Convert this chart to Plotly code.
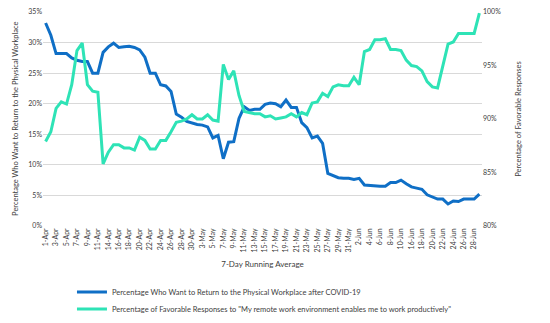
import plotly.graph_objects as go

# Survey dates (7-day running average); a few dates have no survey data
dates = (
    [f"{d}-Apr" for d in list(range(1, 12)) + [13] + list(range(14, 31))]
    + [f"{d}-May" for d in [2] + list(range(3, 32))]
    + [f"{d}-Jun" for d in [1] + list(range(2, 11)) + [15] + list(range(16, 30))]
)

# Percentage who want to return to the physical workplace after COVID-19 (left axis, %)
return_pct = [
    33.2, 31.2, 28.2, 28.2, 28.2, 27.5, 27.1, 26.9, 26.9, 25.0,
    25.0, 28.4, 29.3, 29.9, 29.2, 29.3, 29.4, 29.2, 28.8, 27.6,
    25.0, 25.0, 23.1, 22.9, 22.0, 18.3, 17.8, 17.1, 16.8, 16.6,
    16.5, 16.2, 14.4, 14.8, 11.0, 13.7, 13.8, 17.6, 19.5, 18.9,
    19.1, 19.1, 19.9, 20.1, 20.0, 19.5, 20.6, 19.4, 19.4, 16.9,
    16.1, 14.4, 14.7, 13.5, 8.6, 8.2, 7.9, 7.8, 7.8, 7.6,
    7.8, 6.7, 6.6, 6.5, 6.5, 6.5, 7.1, 7.1, 7.5, 6.9,
    6.4, 6.2, 6.0, 5.1, 4.8, 4.4, 4.4, 3.6, 4.1, 4.0,
    4.4, 4.4, 4.4, 5.2,
]

# Percentage of favorable responses to the remote-work productivity item (right axis, %)
favorable_pct = [
    87.9, 88.8, 91.0, 91.6, 91.4, 93.2, 96.4, 97.1, 93.2, 92.6,
    92.5, 85.8, 86.9, 87.6, 87.6, 87.3, 87.3, 87.1, 88.3, 88.0,
    87.2, 87.2, 88.0, 88.0, 88.8, 89.7, 89.8, 90.0, 90.4, 90.0,
    90.0, 90.4, 89.9, 89.8, 95.1, 93.7, 94.5, 92.2, 90.7, 90.6,
    90.5, 90.5, 90.2, 90.3, 90.0, 90.1, 90.2, 90.5, 90.2, 90.6,
    90.4, 91.5, 91.6, 92.4, 92.1, 93.0, 93.2, 93.1, 93.1, 93.9,
    93.2, 96.3, 96.5, 97.4, 97.4, 97.5, 96.5, 96.5, 96.4, 95.5,
    95.0, 94.9, 94.5, 93.5, 93.0, 92.9, 95.0, 97.0, 97.2, 98.0,
    98.0, 98.0, 98.0, 99.9,
]

left_ticks = [0, 5, 10, 15, 20, 25, 30, 35]
right_ticks = [80, 85, 90, 95, 100]

BLUE = "#0F6FC6"
TEAL = "#2EE3B6"
TEXT = "#404040"
GRID = "#D9D9D9"
FONT = "Lato, 'Open Sans', sans-serif"

fig = go.Figure()
fig.add_trace(go.Scatter(
    x=dates, y=return_pct, mode="lines", yaxis="y", legend="legend",
    line=dict(color=BLUE, width=3),
    name="Percentage Who Want to Return to the Physical Workplace after COVID-19",
))
fig.add_trace(go.Scatter(
    x=dates, y=favorable_pct, mode="lines", yaxis="y2", legend="legend2",
    line=dict(color=TEAL, width=3),
    name='Percentage of Favorable Responses to "My remote work environment enables me to work productively"',
))

legend_style = dict(
    orientation="v", xanchor="left", yanchor="middle",
    font=dict(size=7.5, color=TEXT), bgcolor="rgba(0,0,0,0)",
)

fig.update_layout(
    width=550, height=323,
    margin=dict(l=43, r=68, t=12, b=97, autoexpand=False),
    paper_bgcolor="white", plot_bgcolor="white",
    font=dict(family=FONT, size=8, color=TEXT),
    xaxis=dict(
        type="category", categoryorder="array", categoryarray=dates,
        tickmode="array", tickvals=dates[::2], ticktext=dates[::2],
        tickangle=-90, tickfont=dict(size=7), showgrid=False,
        showline=False, ticks="", zeroline=False, automargin=False,
        range=[-0.5, len(dates) - 0.5],
        title=dict(text="7-Day Running Average", font=dict(size=8), standoff=9),
    ),
    yaxis=dict(
        range=[0, 35], tickmode="array", tickvals=left_ticks,
        ticktext=[f"{v}%" for v in left_ticks],
        showgrid=True, gridcolor=GRID, gridwidth=1, zeroline=False,
        showline=False, ticks="", tickfont=dict(size=7), automargin=False,
    ),
    yaxis2=dict(
        range=[80, 100], tickmode="array", tickvals=right_ticks,
        ticktext=[f"{v}%" for v in right_ticks],
        overlaying="y", side="right", showgrid=False, zeroline=False,
        showline=False, ticks="", tickfont=dict(size=7), automargin=False,
        title=dict(text="Percentage of Favorable Responses",
                   font=dict(size=7.5), standoff=15),
    ),
    annotations=[dict(
        text="Percentage Who Want to Return to the Physical Workplace",
        xref="paper", yref="paper", x=-0.064, y=0.5,
        xanchor="center", yanchor="middle", textangle=-90,
        showarrow=False, font=dict(size=7.5, color=TEXT),
    )],
    legend=dict(x=0.066, y=-0.308, **legend_style),
    legend2=dict(x=0.066, y=-0.388, **legend_style),
    showlegend=True,
)

fig.write_html("out.html")
